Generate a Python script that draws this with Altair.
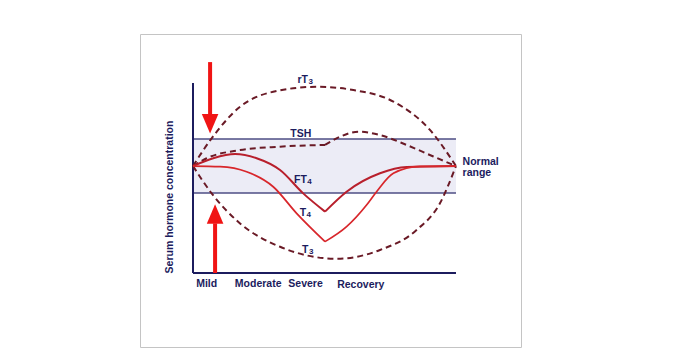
import altair as alt
import pandas as pd

# ---- data (x: time units 0..100 along the axis, y: concentration units 0..100) ----
rT3_u = [0, 7.1, 17.9, 30.5, 47, 61, 76.2, 90.1, 100]
rT3_v = [56.3, 70.9, 87.5, 95.4, 98, 96.3, 90.2, 75.3, 56.3]

T3_u = [0, 7.1, 17.9, 33.1, 54.6, 71.1, 85, 93.9, 100]
T3_v = [56.3, 41.9, 26.1, 13.8, 7.5, 12.1, 22.6, 36.7, 56.3]

TSH_a_u = [0, 5.2, 17.9, 33.1, 50.2]
TSH_a_v = [56.3, 60.4, 64.7, 66.5, 67.4]
TSH_b_u = [50.2, 55.9, 62.9, 71.1, 81.2, 91.4, 100]
TSH_b_v = [67.4, 71.7, 74.4, 72.6, 67.4, 61.3, 56.3]

FT4_a_u = [0, 7.7, 16, 24.2, 33.1, 41.9, 50.2]
FT4_a_v = [56.3, 60.4, 62.6, 60.4, 54.2, 41.9, 32.3]
FT4_b_u = [50.2, 58.4, 71.1, 81.3, 100]
FT4_b_v = [32.3, 42.8, 52.5, 55.8, 56.3]

T4_a_u = [0, 10.3, 20.4, 30.5, 39.4, 50.2]
T4_a_v = [56.3, 56.0, 53.3, 45.4, 31.4, 16.5]
T4_b_u = [50.2, 58.4, 66, 69.8, 76.2, 86.3, 100]
T4_b_v = [16.5, 24.4, 35.8, 42.8, 52.5, 56.1, 56.3]

normal_low, normal_high = 42.1, 70.5

# curve labels: main text (ends at anchor) and subscript (starts at anchor)
curve_main = ["rT", "TSH", "FT", "T", "T"]
curve_sub = ["3", "", "4", "4", "3"]
curve_anchor_u = [43.7, 45.0, 43.3, 43.0, 43.9]
curve_anchor_v = [101.6, 73.2, 48.9, 31.7, 12.1]

phase_labels = ["Mild", "Moderate", "Severe", "Recovery"]
phase_u = [5.2, 24.8, 42.8, 63.8]
phase_v = [-5.8, -5.8, -5.8, -6.3]

range_labels = ["Normal", "range"]
range_u = [102.5, 102.5]
range_v = [58.6, 52.8]

# arrows: shaft (u, v_from, v_to) and head centre
arrow_u = [6.5, 8.4]
arrow_shaft_v1 = [111, 26.1]
arrow_shaft_v2 = [83.2, 0]
arrow_head_v = [78.5, 31.0]
arrow_dir = ["down", "up"]

# ---- build tables ----
def seg(name, key, us, vs):
    return [dict(series=name, key=key, u=u, v=v, i=i) for i, (u, v) in enumerate(zip(us, vs))]

dashed_rows = seg("rT3", "rT3", rT3_u, rT3_v) + seg("T3", "T3", T3_u, T3_v) \
    + seg("TSH", "TSHa", TSH_a_u, TSH_a_v) + seg("TSH", "TSHb", TSH_b_u, TSH_b_v)
ft4_rows = seg("FT4", "FT4a", FT4_a_u, FT4_a_v) + seg("FT4", "FT4b", FT4_b_u, FT4_b_v)
t4_rows = seg("T4", "T4a", T4_a_u, T4_a_v) + seg("T4", "T4b", T4_b_u, T4_b_v)

dashed = pd.DataFrame(dashed_rows)
ft4 = pd.DataFrame(ft4_rows)
t4 = pd.DataFrame(t4_rows)

xs = alt.Scale(domain=[-20.15, 124.72], nice=False, zero=False)
ys = alt.Scale(domain=[-38.95, 125.79], nice=False, zero=False)
X = lambda f: alt.X(f, type="quantitative", scale=xs, axis=None)
Y = lambda f: alt.Y(f, type="quantitative", scale=ys, axis=None)

navy = "#1c1c5e"

band = alt.Chart(pd.DataFrame({"u": [0], "u2": [100], "v": [normal_low], "v2": [normal_high]})).mark_rect(
    color="#ececf6").encode(x=X("u"), x2="u2", y=Y("v"), y2="v2")

band_lines = alt.Chart(pd.DataFrame({"u": [0, 0], "u2": [100, 100], "v": [normal_low, normal_high]})).mark_rule(
    color="#4e4e84", strokeWidth=1.6).encode(x=X("u"), x2="u2", y=Y("v"))

axes_df = pd.DataFrame({"u": [0, 0], "u2": [0, 100], "v": [0, 0], "v2": [100, 0]})
axes = alt.Chart(axes_df).mark_rule(color=navy, strokeWidth=2).encode(
    x=X("u"), x2="u2", y=Y("v"), y2="v2")

dashed_layer = alt.Chart(dashed).mark_line(
    color="#6a1a26", strokeWidth=2, strokeDash=[6, 4], interpolate="monotone").encode(
    x=X("u"), y=Y("v"), detail="key:N", order="i:Q")

ft4_layer = alt.Chart(ft4).mark_line(color="#b81f2c", strokeWidth=2, interpolate="monotone").encode(
    x=X("u"), y=Y("v"), detail="key:N", order="i:Q")

t4_layer = alt.Chart(t4).mark_line(color="#d8262b", strokeWidth=1.7, interpolate="monotone").encode(
    x=X("u"), y=Y("v"), detail="key:N", order="i:Q")

arrows_df = pd.DataFrame({"u": arrow_u, "v1": arrow_shaft_v1, "v2": arrow_shaft_v2,
                          "vh": arrow_head_v, "dir": arrow_dir})
shafts = alt.Chart(arrows_df).mark_rule(color="#f01414", strokeWidth=4).encode(
    x=X("u"), y=Y("v1"), y2="v2")
head_down = alt.Chart(arrows_df[arrows_df.dir == "down"]).mark_point(
    shape="M-0.85,-1L0.85,-1L0,1Z", filled=True, opacity=1, size=380, color="#f01414").encode(
    x=X("u"), y=Y("vh"))
head_up = alt.Chart(arrows_df[arrows_df.dir == "up"]).mark_point(
    shape="M-0.85,1L0.85,1L0,-1Z", filled=True, opacity=1, size=380, color="#f01414").encode(
    x=X("u"), y=Y("vh"))

font = "Liberation Sans"
cl_df = pd.DataFrame({"t": curve_main, "s": curve_sub, "u": curve_anchor_u, "v": curve_anchor_v})
clabels = alt.Chart(cl_df).mark_text(
    font=font, fontSize=10.5, fontWeight="bold", color=navy, baseline="middle", align="right").encode(
    x=X("u"), y=Y("v"), text="t:N")
csub = alt.Chart(cl_df).mark_text(
    font=font, fontSize=8, fontWeight="bold", color=navy, baseline="middle", align="left", dx=0.5, dy=2).encode(
    x=X("u"), y=Y("v"), text="s:N")

plabels = alt.Chart(pd.DataFrame({"t": phase_labels, "u": phase_u, "v": phase_v})).mark_text(
    font=font, fontSize=10.5, fontWeight="bold", color=navy, baseline="middle").encode(
    x=X("u"), y=Y("v"), text="t:N")

rlabels = alt.Chart(pd.DataFrame({"t": range_labels, "u": range_u, "v": range_v})).mark_text(
    font=font, fontSize=10.5, fontWeight="bold", color=navy, align="left", baseline="middle").encode(
    x=X("u"), y=Y("v"), text="t:N")

ylabel = alt.Chart(pd.DataFrame({"t": ["Serum hormone concentration"], "u": [-8.7], "v": [40]})).mark_text(
    font=font, fontSize=10.5, fontWeight="bold", color=navy, angle=270, baseline="middle").encode(
    x=X("u"), y=Y("v"), text="t:N")

chart = alt.layer(
    band, band_lines, axes, dashed_layer, ft4_layer, t4_layer, shafts, head_down, head_up,
    clabels, csub, plabels, rlabels, ylabel
).properties(
    width=381, height=313,
    autosize=alt.AutoSizeParams(type="none"),
    padding={"left": 132, "top": 26, "right": 4, "bottom": 4},
    background="white",
).configure_view(stroke="#c4c4c4", strokeWidth=1)

chart.save("out.html", embed_options={"renderer": "svg", "actions": False})
